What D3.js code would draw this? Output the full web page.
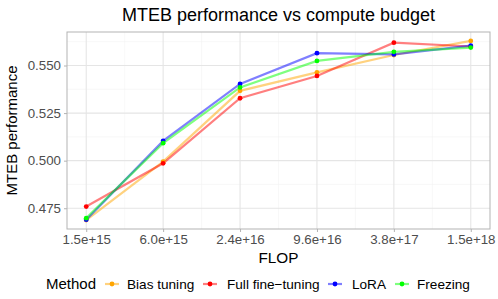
<!DOCTYPE html>
<html><head><meta charset="utf-8">
<script src="https://cdn.jsdelivr.net/npm/d3@7"></script>
<style>body{margin:0;background:#fff}svg{display:block;font-family:"Liberation Sans",Arial,sans-serif}</style>
</head><body><svg id="c" width="498" height="299"></svg>
<script>
const flop = [1.5e15, 6.0e15, 2.4e16, 9.6e16, 3.84e17, 1.536e18];
const xTickLabels = ["1.5e+15","6.0e+15","2.4e+16","9.6e+16","3.8e+17","1.5e+18"];
const methods = ["Bias tuning","Full fine\u2212tuning","LoRA","Freezing"];
const colors = ["#FFA500","#FF0000","#0000FF","#00FF00"];
const biasTuning = [0.4688, 0.4995, 0.5367, 0.5464, 0.5555, 0.5629];
const fullFineTuning = [0.4759, 0.4986, 0.5328, 0.5445, 0.5620, 0.5600];
const lora = [0.4690, 0.5104, 0.5403, 0.5565, 0.5558, 0.5604];
const freezing = [0.4698, 0.5092, 0.5385, 0.5524, 0.5572, 0.5594];
const yTicks = [0.475, 0.500, 0.525, 0.550];
const series = [biasTuning, fullFineTuning, lora, freezing];

const svg = d3.select("#c");
const L = 67, R = 490, T = 32, B = 229;
const lx0 = Math.log10(flop[0]), lx1 = Math.log10(flop[flop.length-1]);
const ex = (lx1 - lx0) * 0.05;
const x = d3.scaleLog().domain([Math.pow(10, lx0-ex), Math.pow(10, lx1+ex)]).range([L, R]);
const all = series.flat();
const ymin = d3.min(all), ymax = d3.max(all), ey = (ymax-ymin)*0.05;
const y = d3.scaleLinear().domain([ymin-ey, ymax+ey]).range([B, T]);

// minor grid
const g = svg.append("g");
for (let i = 0; i < flop.length-1; i++) {
  const xm = Math.sqrt(flop[i]*flop[i+1]);
  g.append("line").attr("x1", x(xm)).attr("x2", x(xm)).attr("y1", T).attr("y2", B).attr("stroke", "#F3F3F3").attr("stroke-width", 0.6);
}
const yMinor = [0.4625, 0.4875, 0.5125, 0.5375, 0.5625].filter(v => y(v) > T && y(v) < B);
yMinor.forEach(v => g.append("line").attr("x1", L).attr("x2", R).attr("y1", y(v)).attr("y2", y(v)).attr("stroke", "#F3F3F3").attr("stroke-width", 0.6));
// major grid
flop.forEach(v => g.append("line").attr("x1", x(v)).attr("x2", x(v)).attr("y1", T).attr("y2", B).attr("stroke", "#E5E5E5").attr("stroke-width", 1.1));
yTicks.forEach(v => g.append("line").attr("x1", L).attr("x2", R).attr("y1", y(v)).attr("y2", y(v)).attr("stroke", "#E5E5E5").attr("stroke-width", 1.1));

// lines and points
const line = d3.line().x((d,i) => x(flop[i])).y(d => y(d));
series.forEach((s, k) => {
  svg.append("path").attr("d", line(s)).attr("fill", "none").attr("stroke", colors[k]).attr("stroke-opacity", 0.5).attr("stroke-width", 2.2);
});
series.forEach((s, k) => {
  s.forEach((v, i) => svg.append("circle").attr("cx", x(flop[i])).attr("cy", y(v)).attr("r", 2.4).attr("fill", colors[k]));
});

// panel border
svg.append("rect").attr("x", L).attr("y", T).attr("width", R-L).attr("height", B-T).attr("fill", "none").attr("stroke", "#B3B3B3").attr("stroke-width", 1);

// axes
const xAxis = d3.axisBottom(x).tickValues(flop).tickFormat((d,i) => xTickLabels[i]).tickSize(3).tickPadding(3);
const xa = svg.append("g").attr("transform", `translate(0,${B})`).call(xAxis);
const yAxis = d3.axisLeft(y).tickValues(yTicks).tickFormat(d3.format(".3f")).tickSize(3).tickPadding(3);
const ya = svg.append("g").attr("transform", `translate(${L},0)`).call(yAxis);
[xa, ya].forEach(a => {
  a.select(".domain").remove();
  a.selectAll(".tick line").attr("stroke", "#B3B3B3");
  a.selectAll(".tick text").attr("fill", "#4D4D4D").attr("font-size", 13.3).attr("font-family", "Liberation Sans, Arial, sans-serif");
});

// titles
svg.append("text").attr("x", (L+R)/2).attr("y", 21).attr("text-anchor", "middle").attr("font-size", 18).attr("fill", "#000").text("MTEB performance vs compute budget");
svg.append("text").attr("x", (L+R)/2).attr("y", 263).attr("text-anchor", "middle").attr("font-size", 15.3).attr("fill", "#000").text("FLOP");
svg.append("text").attr("transform", `translate(17,${(T+B)/2}) rotate(-90)`).attr("text-anchor", "middle").attr("font-size", 15).attr("fill", "#000").text("MTEB performance");

// legend
const ly = 284;
svg.append("text").attr("x", 46).attr("y", ly + 5).attr("font-size", 15).text("Method");
const keyX = [105, 203, 328, 395];
const labX = [127, 227, 352, 417];
methods.forEach((m, k) => {
  svg.append("line").attr("x1", keyX[k]).attr("x2", keyX[k]+14).attr("y1", ly).attr("y2", ly).attr("stroke", colors[k]).attr("stroke-opacity", 0.5).attr("stroke-width", 2.2);
  svg.append("circle").attr("cx", keyX[k]+7).attr("cy", ly).attr("r", 2.4).attr("fill", colors[k]);
  svg.append("text").attr("x", labX[k]).attr("y", ly + 4.5).attr("font-size", 13.6).text(m);
});
</script></body></html>
